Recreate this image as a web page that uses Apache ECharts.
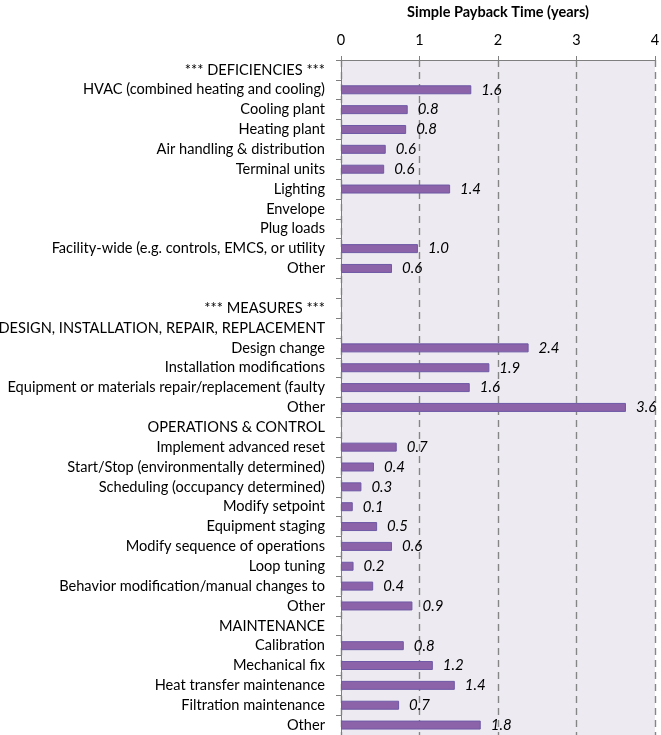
<!DOCTYPE html>
<html>
<head>
<meta charset="utf-8">
<script src="https://cdn.jsdelivr.net/npm/echarts@6/dist/echarts.min.js"></script>
<style>html,body{margin:0;padding:0;background:#fff}#c{width:661px;height:735px}</style>
</head>
<body>
<div id="c"></div>
<script>
const categories = [
  "*** DEFICIENCIES ***",
  "HVAC (combined heating and cooling)",
  "Cooling plant",
  "Heating plant",
  "Air handling & distribution",
  "Terminal units",
  "Lighting",
  "Envelope",
  "Plug loads",
  "Facility-wide (e.g. controls, EMCS, or utility",
  "Other",
  "",
  "*** MEASURES ***",
  "DESIGN, INSTALLATION, REPAIR, REPLACEMENT",
  "Design change",
  "Installation modifications",
  "Equipment or materials repair/replacement (faulty",
  "Other",
  "OPERATIONS & CONTROL",
  "Implement advanced reset",
  "Start/Stop (environmentally determined)",
  "Scheduling (occupancy determined)",
  "Modify setpoint",
  "Equipment staging",
  "Modify sequence of operations",
  "Loop tuning",
  "Behavior modification/manual changes to",
  "Other",
  "MAINTENANCE",
  "Calibration",
  "Mechanical fix",
  "Heat transfer maintenance",
  "Filtration maintenance",
  "Other"
];
const payback = [
  null, 1.66, 0.85, 0.83, 0.57, 0.55, 1.39, null, null, 0.98, 0.65,
  null, null, null, 2.39, 1.89, 1.64, 3.63,
  null, 0.71, 0.42, 0.26, 0.15, 0.46, 0.65, 0.16, 0.41, 0.91,
  null, 0.80, 1.17, 1.45, 0.74, 1.78
];
const valueLabels = [
  "", "1.6", "0.8", "0.8", "0.6", "0.6", "1.4", "", "", "1.0", "0.6",
  "", "", "", "2.4", "1.9", "1.6", "3.6",
  "", "0.7", "0.4", "0.3", "0.1", "0.5", "0.6", "0.2", "0.4", "0.9",
  "", "0.8", "1.2", "1.4", "0.7", "1.8"
];
const xTicks = [0, 1, 2, 3, 4];
const titleText = "Simple Payback Time (years)";

const FONT = "Lato, 'Open Sans', sans-serif";
const chart = echarts.init(document.getElementById('c'), null, {renderer: 'canvas'});
chart.setOption({
  animation: false,
  title: {
    text: titleText,
    left: 493, top: 0, textAlign: 'center',
    textStyle: {fontFamily: FONT, fontSize: 14.5, fontWeight: 'bold', color: '#000'}
  },
  grid: {left: 341, right: 6, top: 60, bottom: 0, show: true, backgroundColor: '#EEEAF2', borderWidth: 0,
         containLabel: false, outerBoundsMode: 'none'},
  xAxis: {
    type: 'value', position: 'top',
    min: xTicks[0], max: xTicks[xTicks.length - 1], interval: 1,
    axisLine: {show: true, lineStyle: {color: '#7f7f7f', width: 1}},
    axisTick: {show: true, length: 4, lineStyle: {color: '#7f7f7f'}},
    axisLabel: {fontFamily: FONT, fontSize: 14.5, color: '#000', margin: 12},
    splitLine: {show: true, lineStyle: {color: '#858585', type: [7, 5], width: 1.4}}
  },
  yAxis: {
    type: 'category', inverse: true, data: categories,
    axisLine: {show: true, lineStyle: {color: '#7f7f7f', width: 1}},
    axisTick: {show: true, length: 5, lineStyle: {color: '#7f7f7f'}},
    axisLabel: {fontFamily: FONT, fontSize: 14.6, color: '#000', margin: 16, interval: 0}
  },
  series: [{
    type: 'bar',
    data: payback,
    barWidth: 9,
    itemStyle: {color: '#8C62A8', borderColor: '#6E5AA6', borderWidth: 1},
    label: {
      show: true, position: 'right', distance: 10,
      fontFamily: FONT, fontSize: 15, fontStyle: 'italic', color: '#000',
      formatter: p => valueLabels[p.dataIndex]
    }
  }]
});
</script>
</body>
</html>
